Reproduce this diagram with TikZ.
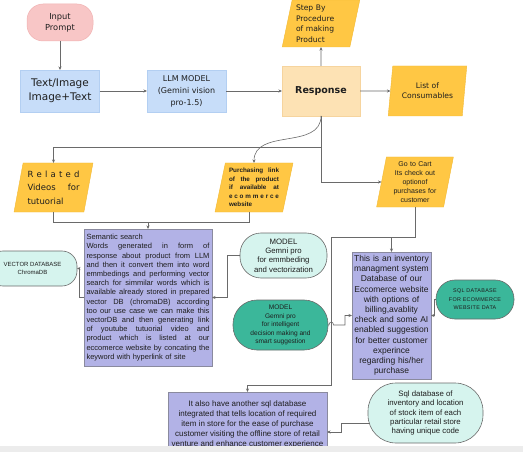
\documentclass[tikz,border=0pt]{standalone}
\usepackage{fontspec}
\setmainfont{Liberation Sans}
\newfontfamily\tah{DejaVu Sans}
\usetikzlibrary{shapes.geometric,arrows.meta,calc}
\definecolor{cpink}{HTML}{F8C6C6}
\definecolor{cpinkb}{HTML}{F0B2B2}
\definecolor{cblue}{HTML}{C7DDF9}
\definecolor{cblueb}{HTML}{B3CFF2}
\definecolor{cpeach}{HTML}{FDE2B4}
\definecolor{cpeachb}{HTML}{F6D49E}
\definecolor{corange}{HTML}{FFC744}
\definecolor{corangeb}{HTML}{F2B934}
\definecolor{clav}{HTML}{B2B2E6}
\definecolor{clavb}{HTML}{8A8A9E}
\definecolor{ccyan}{HTML}{D6F4EE}
\definecolor{cteal}{HTML}{3BB79A}
\definecolor{cline}{HTML}{6A6A6A}
\definecolor{ctext}{HTML}{1E1E1E}
\definecolor{cband}{HTML}{ECECEC}
\newcommand{\jl}[2]{\makebox[#1][s]{\spaceskip=0.28em plus 1fil\relax #2}}
\begin{document}
\begin{tikzpicture}[x=1pt,y=-1pt,
  every node/.style={inner sep=0pt, outer sep=0pt, text=ctext, align=center},
  conn/.style={draw=cline, line width=0.6pt, -{Stealth[length=3.5pt,width=3pt]}},
  plain/.style={draw=cline, line width=0.6pt},
  bluebox/.style={rectangle, fill=cblue, draw=cblueb, line width=0.5pt, minimum width=79pt, minimum height=42pt},
  para/.style={trapezium, trapezium left angle=77, trapezium right angle=103, trapezium stretches=true, fill=corange, draw=corangeb, line width=0.4pt},
  lavbox/.style={rectangle, fill=clav, draw=clavb, line width=0.6pt},
  cypill/.style={rectangle, fill=ccyan, draw=cline, line width=0.6pt},
  tealpill/.style={rectangle, fill=cteal, draw=cline, line width=0.6pt}
]
\useasboundingbox (0,0) rectangle (523,452);

% top row
\node[rectangle, rounded corners=16pt, fill=cpink, draw=cpinkb, line width=0.5pt, minimum width=66pt, minimum height=37pt, font=\tah\fontsize{8.3}{11}\selectfont] (inp) at (60,22.5) {Input\\Prompt};
\node[bluebox, font=\tah\fontsize{10.5}{14}\selectfont] (txt) at (60,91) {Text/Image\\Image+Text};
\node[bluebox, font=\tah\fontsize{8}{12}\selectfont] (llm) at (186.5,91) {LLM MODEL\\(Gemini vision\\pro-1.5)};
\node[rectangle, fill=cpeach, draw=cpeachb, line width=0.5pt, minimum width=78pt, minimum height=50pt, font=\tah\bfseries\fontsize{9.5}{12}\selectfont] (resp) at (321,91) {Response};
\node[para, minimum width=78pt, minimum height=47pt, text width=50pt, align=left, font=\tah\fontsize{7.6}{10.5}\selectfont] (step) at (321,23.5) {Step By\\Procedure\\of making\\Product};
\node[para, minimum width=79pt, minimum height=50pt, text width=56pt, font=\tah\fontsize{7.6}{10}\selectfont] (cons) at (427.5,91) {List of\\Consumables};

% second row
\node[para, minimum width=79pt, minimum height=49pt, text width=52pt, align=left, font=\tah\fontsize{8.5}{13.5}\selectfont] (rel) at (53.5,187.5) {\jl{52pt}{R\hfill e\hfill l\hfill a\hfill t\hfill e\hfill d}\\\jl{52pt}{Videos for}\\tutuorial};
\node[para, minimum width=78pt, minimum height=49pt, text width=50pt, align=left, font=\bfseries\fontsize{6.3}{8.6}\selectfont] (pur) at (254,187.5) {\jl{50pt}{Purchasing link}\\\jl{50pt}{of the product}\\\jl{50pt}{if available at}\\\jl{50pt}{e\hfill c\hfill o\hfill m\hfill m\hfill e\hfill r\hfill c\hfill e}\\website};
\node[para, minimum width=77pt, minimum height=50pt, text width=55pt, font=\fontsize{7}{9}\selectfont] (cart) at (415,182) {Go to Cart\\Its check out\\optionof\\purchases for\\customer};

% semantic search box
\node[lavbox, minimum width=128pt, minimum height=137pt, text width=123pt, align=left, font=\fontsize{7.5}{9.2}\selectfont] (sem) at (148,297.5) {Semantic search\\
\jl{123pt}{Words generated in form of}\\
\jl{123pt}{response about product from LLM}\\
\jl{123pt}{and then it convert them into word}\\
\jl{123pt}{emmbedings and performing vector}\\
\jl{123pt}{search for simmilar words which is}\\
\jl{123pt}{available already stored in prepared}\\
\jl{123pt}{vector DB (chromaDB) according}\\
\jl{123pt}{too our use case we can make this}\\
\jl{123pt}{vectorDB and then generating link}\\
\jl{123pt}{of youtube tutuorial video and}\\
\jl{123pt}{product which is listed at our}\\
\jl{123pt}{eccomerce website by concating the}\\
keyword with hyperlink of site};

\node[cypill, rounded corners=15pt, minimum width=89pt, minimum height=35pt, font=\fontsize{6}{8.5}\selectfont] (vdb) at (32.5,268.5) {VECTOR DATABASE\\ChromaDB};
\node[cypill, rounded corners=21pt, minimum width=87pt, minimum height=45pt, font=\fontsize{7.8}{9.3}\selectfont] (emb) at (283.5,255.5) {MODEL\\Gemni pro\\for emmbeding\\and vectorization};
\node[tealpill, rounded corners=24pt, minimum width=95pt, minimum height=50pt, font=\fontsize{6.6}{8.6}\selectfont] (dec) at (280.5,325) {MODEL\\Gemni pro\\for intelligent\\decision making and\\smart suggestion};

\node[lavbox, minimum width=79pt, minimum height=127pt, text width=78pt, font=\fontsize{8.5}{10.2}\selectfont] (inv) at (391.5,315.5) {This is an inventory\\managment system\\Database of our\\Eccomerce website\\with options of\\billing,avablity\\check and some AI\\enabled suggestion\\for better customer\\experince\\regarding his/her\\purchase};
\node[tealpill, rounded corners=19pt, minimum width=78pt, minimum height=39pt, font=\fontsize{5.4}{8.5}\selectfont\addfontfeatures{LetterSpace=6}] (sqldb) at (475,299.5) {SQL DATABASE\\FOR ECOMMERCE\\WEBSITE DATA};

\node[lavbox, minimum width=159pt, minimum height=65pt, font=\fontsize{8}{10}\selectfont] (low) at (247.5,424.5) {It also have another sql database\\integrated that tells location of required\\item in store for the ease of purchase\\customer visiting the offline store of retail\\venture and enhance customer experience};
\node[cypill, rounded corners=28pt, minimum width=115pt, minimum height=60pt, font=\fontsize{7.8}{9.3}\selectfont] (sqlinv) at (425.5,413) {Sql database of\\inventory and location\\of stock item of each\\particular retail store\\having unique code};

% connectors
\coordinate (r1) at (321,147);
\coordinate (j1) at (148,222);
\coordinate (j2) at (391.5,237);
\coordinate (j2b) at (331,237);
\coordinate (j3) at (331,385);
\coordinate (j4) at (341,432);

\draw[conn] (inp.south) -- (txt.north);
\draw[conn] (txt.east) -- (llm.west);
\draw[conn] (llm.east) -- (resp.west);
\draw[conn] (resp.east) -- (cons.west);
\draw[conn] (resp.north) -- (step.south);
\draw[conn] (resp.south) -- (r1) -| (rel.north);
\draw[conn] (resp.south) .. controls (321,150) and (254,128) .. (pur.north);
\draw[conn] (resp.south) |- (cart.west);
\draw[plain] (rel.south) |- (j1);
\draw[plain] ([xshift=-5pt]pur.south) |- (j1);
\draw[conn] (j1) -- (sem.north);
\draw[conn] (cart.south) |- (j2) -- (inv.north);
\draw[conn] (j2) -- (j2b) -- (j3) -| (low.north);
\draw[conn] (sem.west) -- ++(-5,0) |- (vdb.east);
\draw[conn] (emb.west) -- ++(-13,0) |- (sem.east);
\draw[conn] (dec.east) -- ++(1,0) .. controls +(0,-4) and +(0,-4) .. ++(4.5,0) -- ++(11.5,0) |- (inv.west);
\draw[conn] (sqldb.west) -- ++(-2,0) |- (inv.east);
\draw[conn] ($(sqlinv.west)+(1.5,10)$) -| (j4) -- (j4 -| low.east);

\fill[cband] (0,446) rectangle (523,452);
\end{tikzpicture}
\end{document}
